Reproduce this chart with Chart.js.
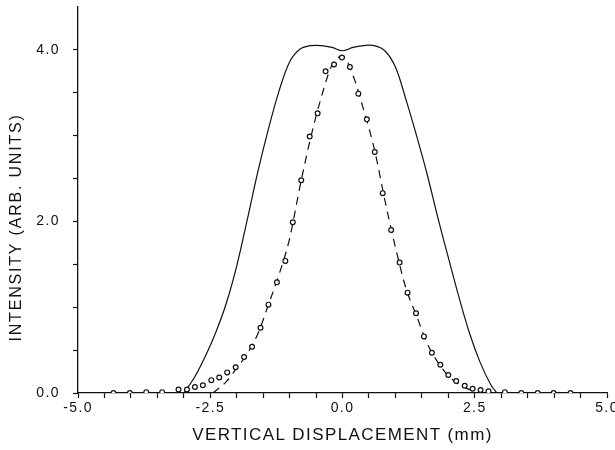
<!DOCTYPE html>
<html lang="en">
<head>
  <meta charset="UTF-8">
  <title>Intensity vs Vertical Displacement</title>
  <script src="https://cdn.jsdelivr.net/npm/chart.js"></script>
  <style>
    html, body {
      margin: 0;
      padding: 0;
      background: #fff;
    }
    .wrap {
      width: 615px;
      height: 450px;
    }
  </style>
</head>
<body>
  <div class="wrap"><canvas id="chart"></canvas></div>

  <script>
    // solid curve (broad, flat-topped profile)
    const solidX = [-3.0, -2.8, -2.6, -2.4, -2.2, -2.0, -1.8, -1.6, -1.4, -1.2, -1.0, -0.8, -0.6, -0.4, -0.2,
                    0.0, 0.2, 0.4, 0.6, 0.8, 1.0, 1.2, 1.4, 1.6, 1.8, 2.0, 2.2, 2.4, 2.6, 2.8, 2.92];
    const solidY = [0.0, 0.18, 0.42, 0.7, 1.04, 1.48, 2.02, 2.58, 3.08, 3.52, 3.86, 4.01, 4.05, 4.05, 4.03,
                    3.99, 4.03, 4.05, 4.05, 3.99, 3.8, 3.42, 3.0, 2.55, 2.05, 1.58, 1.12, 0.7, 0.36, 0.1, 0.0];

    // dashed curve (narrow profile)
    const dashX = [-2.45, -2.2, -2.0, -1.8, -1.6, -1.4, -1.2, -1.0, -0.8, -0.6, -0.4, -0.2, 0.0,
                   0.2, 0.4, 0.6, 0.8, 1.0, 1.2, 1.4, 1.6, 1.8, 2.0, 2.2, 2.4, 2.55];
    const dashY = [0.0, 0.13, 0.29, 0.46, 0.69, 1.03, 1.38, 1.8, 2.42, 2.98, 3.45, 3.82, 3.93,
                   3.7, 3.3, 2.85, 2.25, 1.7, 1.22, 0.9, 0.58, 0.36, 0.2, 0.1, 0.04, 0.0];

    // measured points (open circles)
    const measX = [-4.33, -4.02, -3.71, -3.41, -3.10, -2.94, -2.79, -2.64, -2.48, -2.33, -2.18, -2.02,
                   -1.86, -1.71, -1.55, -1.40, -1.24, -1.08, -0.94, -0.78, -0.62, -0.47, -0.32, -0.16,
                   -0.01, 0.14, 0.30, 0.46, 0.61, 0.76, 0.92, 1.08, 1.23, 1.39, 1.54, 1.69, 1.85,
                   2.00, 2.15, 2.31, 2.46, 2.61, 2.76, 3.07, 3.38, 3.69, 3.99, 4.31];
    const measY = [0.0, 0.0, 0.01, 0.01, 0.04, 0.04, 0.07, 0.09, 0.15, 0.18, 0.24, 0.30,
                   0.42, 0.54, 0.76, 1.03, 1.29, 1.54, 1.99, 2.48, 2.99, 3.26, 3.75, 3.83,
                   3.91, 3.80, 3.49, 3.19, 2.81, 2.33, 1.90, 1.52, 1.17, 0.93, 0.66, 0.47, 0.33,
                   0.21, 0.14, 0.085, 0.05, 0.035, 0.02, 0.01, 0.0, 0.0, 0.0, 0.0];

    const xLabels = [-5, -2.5, 0, 2.5, 5];
    const yLabels = [0, 2, 4];
    const xTitle = 'VERTICAL DISPLACEMENT (mm)';
    const yTitle = 'INTENSITY (ARB. UNITS)';

    const pairs = (xs, ys) => xs.map((x, i) => ({ x: x, y: ys[i] }));
    const near = (v, list) => list.some(l => Math.abs(l - v) < 1e-6);

    const ink = '#111';
    const family = "'Liberation Sans', Arial, sans-serif";

    // wider tracking, like the original lettering
    const spacing = {
      id: 'spacing',
      beforeLayout(chart) { chart.ctx.letterSpacing = '1.4px'; },
      beforeDraw(chart) { chart.ctx.letterSpacing = '1.4px'; }
    };

    // y title sits a bit below the middle of the axis in the original
    const sideTitle = {
      id: 'sideTitle',
      afterDraw(chart) {
        const ctx = chart.ctx;
        const y = chart.scales.y;
        ctx.save();
        ctx.letterSpacing = '1.8px';
        ctx.font = '16px ' + family;
        ctx.fillStyle = ink;
        ctx.textAlign = 'center';
        ctx.textBaseline = 'middle';
        ctx.translate(17, y.getPixelForValue(1.93));
        ctx.rotate(-Math.PI / 2);
        ctx.fillText(yTitle, 0, 0);
        ctx.restore();
      }
    };

    new Chart(document.getElementById('chart'), {
      type: 'scatter',
      data: {
        datasets: [
          {
            label: 'solid',
            data: pairs(solidX, solidY),
            showLine: true,
            borderColor: ink,
            borderWidth: 1.2,
            pointRadius: 0,
            tension: 0.35,
            order: 3
          },
          {
            label: 'dashed',
            data: pairs(dashX, dashY),
            showLine: true,
            borderColor: ink,
            borderWidth: 1.2,
            borderDash: [8, 6],
            pointRadius: 0,
            cubicInterpolationMode: 'monotone',
            order: 2
          },
          {
            label: 'measured',
            data: pairs(measX, measY),
            showLine: false,
            pointStyle: 'circle',
            pointRadius: 2.4,
            pointBorderWidth: 1.2,
            pointBorderColor: ink,
            pointBackgroundColor: '#fff',
            order: 1
          }
        ]
      },
      options: {
        responsive: true,
        maintainAspectRatio: false,
        animation: false,
        layout: { padding: { left: 0, top: 7, right: 8, bottom: 0 } },
        plugins: {
          legend: { display: false },
          tooltip: { enabled: false }
        },
        scales: {
          x: {
            type: 'linear',
            min: -5,
            max: 5,
            border: { color: ink, width: 1.3 },
            grid: {
              drawOnChartArea: false,
              drawTicks: true,
              tickLength: 5,
              tickWidth: 1.2,
              tickColor: ink
            },
            ticks: {
              stepSize: 0.5,
              autoSkip: false,
              maxRotation: 0,
              padding: 2,
              color: ink,
              font: { family: family, size: 14 },
              callback: v => near(v, xLabels) ? v.toFixed(1) : ''
            },
            title: {
              display: true,
              text: xTitle,
              color: ink,
              font: { family: family, size: 17 },
              padding: { top: 0, bottom: 4 }
            },
            afterFit(scale) {
              scale.height = 57;
              scale.paddingLeft = 0;
              scale.paddingRight = 0;
            }
          },
          y: {
            type: 'linear',
            min: 0,
            max: 4.5,
            border: { color: ink, width: 1.3 },
            grid: {
              drawOnChartArea: false,
              drawTicks: true,
              tickLength: 5,
              tickWidth: 1.2,
              tickColor: ctx => ctx.tick && ctx.tick.value > 4.4 ? 'rgba(0,0,0,0)' : ink
            },
            ticks: {
              stepSize: 0.5,
              autoSkip: false,
              padding: 13,
              color: ink,
              font: { family: family, size: 14 },
              callback: v => near(v, yLabels) ? v.toFixed(1) : ''
            },
            title: { display: false },
            afterFit(scale) {
              scale.width = 78;
              scale.paddingTop = 0;
              scale.paddingBottom = 0;
            }
          }
        }
      },
      plugins: [spacing, sideTitle]
    });
  </script>
</body>
</html>
